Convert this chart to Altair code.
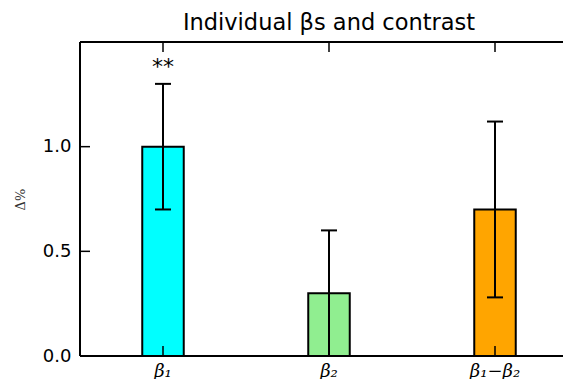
import altair as alt
import pandas as pd

categories = ["β₁", "β₂", "β₁−β₂"]
values = [1.0, 0.3, 0.7]
errors = [0.3, 0.3, 0.42]
colors = ["#00FFFF", "#90EE90", "#FFA500"]
stars = ["**", "", ""]
y_ticks = [0.0, 0.5, 1.0]

df = pd.DataFrame({"cat": categories, "val": values, "err": errors, "sig": stars})
df["lo"] = df["val"] - df["err"]
df["hi"] = df["val"] + df["err"]
tick_df = pd.DataFrame({"t": y_ticks})

W, H = 483, 314

xs = alt.Scale(domain=categories, range=[0, 498], paddingInner=0.75, paddingOuter=0.375)
ys = alt.Scale(domain=[0, 1.5], nice=False, zero=True)

x_axis = alt.Axis(title=None, domain=False, ticks=False, labelAngle=0,
                  labelFont="DejaVu Serif", labelFontStyle="italic", labelFontSize=18,
                  labelColor="black", labelPadding=6)
y_axis = alt.Axis(values=y_ticks, format=".1f", ticks=False, domain=False, grid=False,
                  labelFont="DejaVu Sans", labelFontSize=18, labelColor="black", labelPadding=9,
                  title="Δ%", titleFont="DejaVu Serif", titleFontSize=13, titleFontWeight="normal",
                  titleColor="#333333", titleAngle=270, titleX=-60, titleY=H / 2,
                  titleAlign="center", titleBaseline="middle")

X = alt.X("cat:N", scale=xs, sort=categories, axis=x_axis)
Xn = alt.X("cat:N", scale=xs, sort=categories)

base = alt.Chart(df)

bars = base.mark_bar(stroke="black", strokeWidth=2).encode(
    x=X,
    y=alt.Y("val:Q", scale=ys, axis=y_axis),
    color=alt.Color("cat:N", scale=alt.Scale(domain=categories, range=colors), legend=None),
)
err = base.mark_rule(color="black", strokeWidth=2).encode(x=Xn, y="lo:Q", y2="hi:Q")
cap_hi = base.mark_tick(color="black", size=16, thickness=2, opacity=1).encode(x=Xn, y="hi:Q")
cap_lo = base.mark_tick(color="black", size=16, thickness=2, opacity=1).encode(x=Xn, y="lo:Q")
sig = base.mark_text(font="DejaVu Sans", fontSize=22, baseline="alphabetic", dy=-10, color="black").encode(
    x=Xn, y="hi:Q", text="sig:N")

top_ticks = base.mark_rule(color="black", strokeWidth=1.5).encode(x=Xn, y=alt.value(0), y2=alt.value(10))
bot_ticks = base.mark_rule(color="black", strokeWidth=1.5).encode(x=Xn, y=alt.value(H - 10), y2=alt.value(H))

tk = alt.Chart(tick_df)
left_ticks = tk.mark_rule(color="black", strokeWidth=1.5).encode(y="t:Q", x=alt.value(0), x2=alt.value(10))

top_spine = base.mark_rule(color="black", strokeWidth=2).encode(x=alt.value(0), x2=alt.value(W), y=alt.value(0))
bot_spine = base.mark_rule(color="black", strokeWidth=2).encode(x=alt.value(0), x2=alt.value(W), y=alt.value(H))
left_spine = base.mark_rule(color="black", strokeWidth=2).encode(x=alt.value(0), y=alt.value(0), y2=alt.value(H))

chart = alt.layer(
    bars, err, cap_hi, cap_lo, sig, top_ticks, bot_ticks, left_ticks,
    top_spine, bot_spine, left_spine,
).properties(
    width=W, height=H,
    autosize=alt.AutoSizeParams(type="none"),
    padding={"left": 72, "top": 34, "right": 0, "bottom": 23},
    title=alt.TitleParams("Individual βs and contrast", font="DejaVu Sans", fontSize=22.5,
                          fontWeight="normal", color="black", anchor="middle",
                          baseline="alphabetic", offset=10, dx=7.5, dy=21),
).configure_view(stroke=None).configure(background="white")

chart.save("out.html", embed_options={"renderer": "svg", "actions": False})
